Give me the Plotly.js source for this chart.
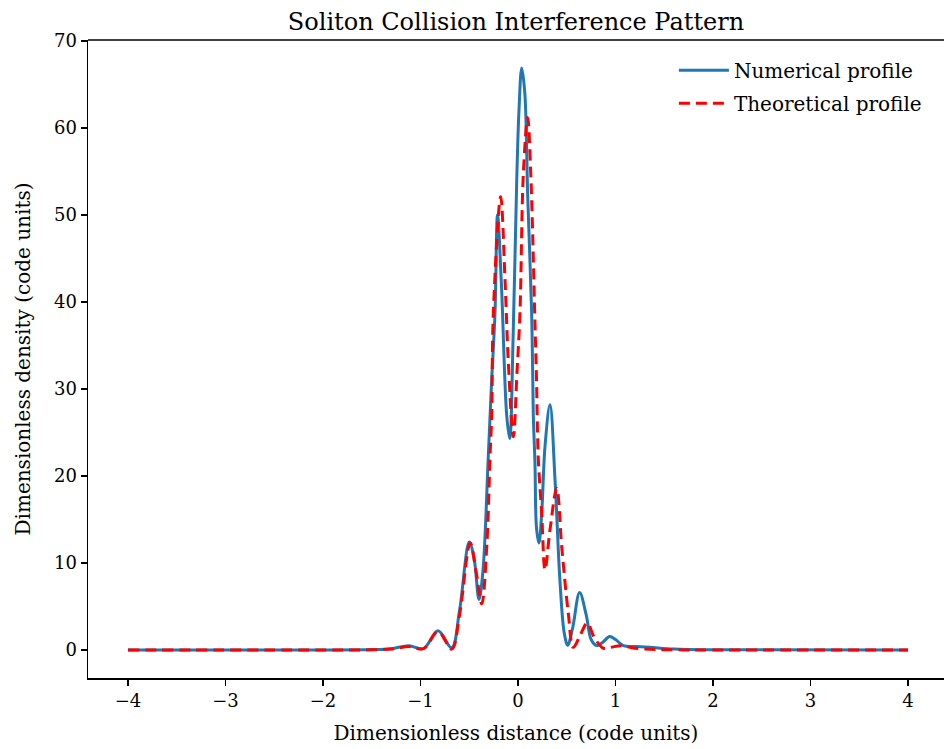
<!DOCTYPE html>
<html>
<head>
<meta charset="utf-8">
<script src="https://cdn.plot.ly/plotly-3.0.1.min.js"></script>
<style>
html,body{margin:0;padding:0;background:#fff;}
#chart{width:944px;height:749px;}
</style>
</head>
<body>
<div id="chart"></div>
<script>
// Numerical profile
const numX = [-4, -2, -1.5, -1.3, -1.12, -0.97, -0.82, -0.68, -0.6, -0.5, -0.45, -0.4, -0.36, -0.305, -0.27, -0.236, -0.21, -0.17, -0.116, -0.085, -0.05, -0.013, 0.01, 0.038, 0.07, 0.1, 0.14, 0.157, 0.174, 0.19, 0.215, 0.243, 0.277, 0.328, 0.38, 0.43, 0.475, 0.51, 0.56, 0.632, 0.7, 0.75, 0.807, 0.87, 0.94, 1.0, 1.08, 1.2, 1.35, 1.6, 2, 4];
const numY = [0, 0, 0.05, 0.15, 0.5, 0.15, 2.2, 0.25, 4.5, 12.4, 10.5, 5.8, 9, 22.2, 31, 38.7, 50, 42, 27, 24.3, 36, 54, 62, 66.9, 64, 52, 38.7, 27, 21.5, 14, 12.3, 15.7, 23.4, 28.2, 19.5, 8, 1.9, 0.55, 2.5, 6.6, 4, 1.2, 0.5, 0.9, 1.55, 1.2, 0.5, 0.4, 0.3, 0.1, 0.02, 0];

// Theoretical profile
const theoX = [-4, -2, -1.5, -1.3, -1.12, -0.97, -0.82, -0.68, -0.6, -0.49, -0.43, -0.372, -0.32, -0.287, -0.27, -0.253, -0.178, -0.133, -0.099, -0.048, -0.01, 0.02, 0.055, 0.099, 0.13, 0.174, 0.19, 0.208, 0.243, 0.277, 0.328, 0.397, 0.448, 0.516, 0.567, 0.63, 0.71, 0.78, 0.875, 0.95, 1.05, 1.15, 1.3, 1.6, 2, 4];
const theoY = [0, 0, 0.02, 0.1, 0.4, 0.15, 2.1, 0.1, 4, 12.3, 9, 5.3, 12, 22.2, 27, 38.7, 52.1, 42.5, 33, 24.5, 32, 38.7, 54.8, 61.2, 55, 37.6, 31, 22, 15.7, 9.2, 13.8, 18.6, 11.9, 4.2, 0.3, 1.5, 3.1, 1.5, 0.2, 0.3, 0.5, 0.3, 0.1, 0.02, 0, 0];

const xTicks = [-4, -3, -2, -1, 0, 1, 2, 3, 4];
const yTicks = [0, 10, 20, 30, 40, 50, 60, 70];

const serif = "DejaVu Serif, serif";

const traces = [
  {x: numX, y: numY, mode: 'lines', name: 'Numerical profile', legendgroup: 'a',
   line: {color: '#1f77b4', width: 3, shape: 'spline', smoothing: 1}},
  {x: theoX, y: theoY, mode: 'lines', name: 'Theoretical profile', legendgroup: 'b',
   line: {color: '#ff0000', width: 3, dash: '11px,6px', shape: 'spline', smoothing: 1}}
];

const layout = {
  width: 944, height: 749,
  margin: {l: 88, r: 0, t: 40, b: 71},
  paper_bgcolor: '#fff', plot_bgcolor: '#fff',
  font: {family: serif, size: 18, color: '#000'},
  title: {text: 'Soliton Collision Interference Pattern', font: {family: serif, size: 24, color: '#000'},
          x: 0.5, xref: 'paper', y: 1, yref: 'paper', yanchor: 'bottom', pad: {b: 10}},
  xaxis: {range: [-4.410, 4.369], tickvals: xTicks, ticktext: xTicks.map(v => v < 0 ? '\u2212' + Math.abs(v) : String(v)),
          showgrid: false, zeroline: false, showline: true, linecolor: '#000', linewidth: 1.5,
          ticks: 'outside', ticklen: 6, tickwidth: 1.2, tickcolor: '#000',
          tickfont: {family: serif, size: 18},
          title: {text: 'Dimensionless distance (code units)', font: {family: serif, size: 20}, standoff: 16}},
  yaxis: {range: [-3.22, 70.11], tickvals: yTicks,
          showgrid: false, zeroline: false, showline: true, linecolor: '#000', linewidth: 1.5,
          ticks: 'outside', ticklen: 6, tickwidth: 1.2, tickcolor: '#000',
          tickfont: {family: serif, size: 18},
          title: {text: 'Dimensionless density (code units)', font: {family: serif, size: 20}, standoff: 18}},
  shapes: [{type: 'line', xref: 'paper', yref: 'paper', x0: 0, x1: 1, y0: 1, y1: 1,
            line: {color: '#000', width: 1.5}}],
  legend: {x: 0.980, y: 0.983, xanchor: 'right', yanchor: 'top', bgcolor: 'rgba(255,255,255,0)',
           font: {family: serif, size: 20}, itemwidth: 50, traceorder: 'grouped', tracegroupgap: 4},
  showlegend: true
};

Plotly.newPlot('chart', traces, layout, {displayModeBar: false, staticPlot: true});
</script>
</body>
</html>
